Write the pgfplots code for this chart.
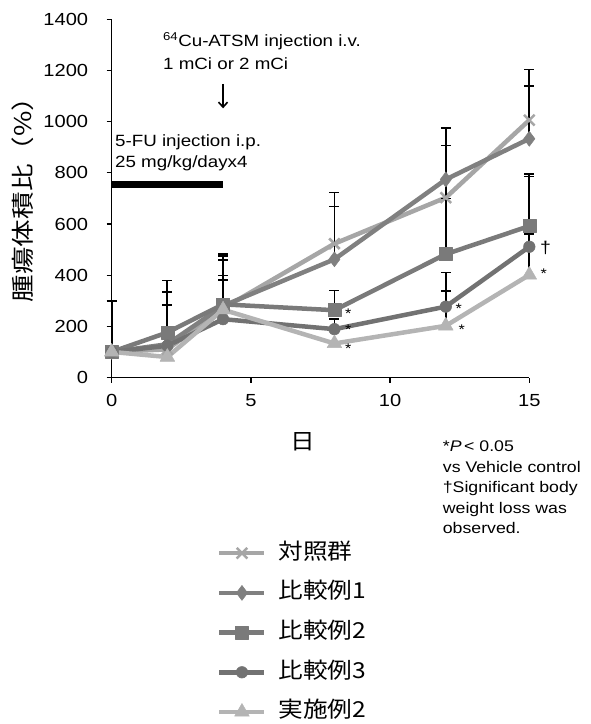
\documentclass[border=0pt]{standalone}
\usepackage{pgfplots}
\usepackage{pgfplotstable}
\pgfplotsset{compat=1.18}
\usetikzlibrary{arrows.meta}
\usepackage{fontspec}
\setmainfont{Liberation Sans}[FakeStretch=1.15]
\newfontfamily\jp{Noto Sans CJK JP}[FakeStretch=1.12]
\newfontfamily\jpy{Noto Sans CJK JP}[FakeStretch=1.2]

\definecolor{cCtrl}{HTML}{A6A6A6}
\definecolor{cCa}{HTML}{808080}
\definecolor{cCb}{HTML}{7A7A7A}
\definecolor{cCc}{HTML}{727272}
\definecolor{cEx}{HTML}{B4B4B4}

\pgfplotstableread{
x y e
0 100 200
2 110 173
4 270 205
8 523 200
12 703 203
15 1006 198
}\ctrl
\pgfplotstableread{
x y e
0 100 10
2 130 249
4 280 203
8 462 206
12 774 201
15 933 207
}\compa
\pgfplotstableread{
x y e
0 100 10
2 176 159
4 286 174
8 263 77
12 482 218
15 592 203
}\compb
\pgfplotstableread{
x y e
0 100 10
2 124 60
4 228 170
8 189 40
12 277 133
15 511 274
}\compc
\pgfplotstableread{
x y e
0 100 10
2 80 40
4 265 115
8 133 95
12 202 136
15 401 159
}\exb

\begin{document}
\begin{tikzpicture}
\useasboundingbox (0pt,0pt) rectangle (590pt,724pt);
\begin{axis}[
  at={(111.7pt,346.5pt)}, anchor=south west,
  scale only axis, width=417.6pt, height=358.2pt,
  xmin=0, xmax=15, ymin=0, ymax=1400,
  axis lines=left,
  axis line style={-, line width=1.5pt, black},
  xtick={0,5,10,15}, ytick={0,200,...,1400},
  tick align=outside, major tick length=5pt,
  tick style={black, line width=1.3pt},
  /pgf/number format/assume math mode=true,
  /pgf/number format/1000 sep={},
  tick label style={font=\fontsize{17.5}{17.5}\selectfont},
  xticklabel style={yshift=-8pt},
  yticklabel style={xshift=-15pt},
  clip=false,
  legend style={at={(0.2522,-0.462)}, anchor=north west, draw=none, fill=none,
    inner sep=0pt, row sep=19.7pt, column sep=12pt,
    nodes={inner sep=0pt, text height=16pt, text depth=4pt},
    font=\jp\fontsize{22}{22}\selectfont},
  legend cell align=left,
  legend image code/.code={\draw[mark repeat=2, mark phase=2, #1] plot coordinates {(0pt,0pt) (22.5pt,0pt) (45pt,0pt)};},
  ebar/.style={error bars/.cd, y dir=plus, y explicit, error mark=-,
    error bar style={black, line width=1.8pt, solid},
    error mark options={black, line width=1.6pt, mark size=5pt, solid, rotate=90}},
]
% 5-FU bar and arrow
\addplot[black, line width=7pt, forget plot, mark=none] coordinates {(0,755) (4,755)};
\addplot[black, line width=1.6pt, forget plot, mark=none, -{Straight Barb[length=5pt,width=9pt]}] coordinates {(4,1148) (4,1052)};

\addplot[cCtrl, line width=4.5pt, line join=round, mark=x, mark size=7.5pt, mark options={solid, line width=2.5pt}, ebar] table[x=x,y=y,y error=e]{\ctrl};
\addplot[cCa, line width=4.5pt, line join=round, mark=diamond*, mark size=7.5pt, mark options={solid, fill=cCa, draw=cCa, line width=0.5pt}, ebar] table[x=x,y=y,y error=e]{\compa};
\addplot[cCb, line width=4.5pt, line join=round, mark=square*, mark size=6.5pt, mark options={solid, fill=cCb, draw=cCb, line width=0.5pt}, ebar] table[x=x,y=y,y error=e]{\compb};
\addplot[cCc, line width=4.5pt, line join=round, mark=*, mark size=5.8pt, mark options={solid, fill=cCc, draw=cCc, line width=0.5pt}, ebar] table[x=x,y=y,y error=e]{\compc};
\addplot[cEx, line width=4.5pt, line join=round, mark=triangle*, mark size=8.5pt, mark options={solid, fill=cEx, draw=cEx, line width=0.5pt}, ebar] table[x=x,y=y,y error=e]{\exb};
\legend{対照群, 比較例1, 比較例2, 比較例3, 実施例2}

% significance marks
\begin{scope}[every node/.style={anchor=base west, inner sep=0pt, font=\fontsize{14}{14}\selectfont, yshift=-8pt}]
\node at (axis cs:8.38,263) {*};
\node at (axis cs:8.38,198) {*};
\node at (axis cs:8.38,127) {*};
\node at (axis cs:12.35,280) {*};
\node at (axis cs:12.45,198) {*};
\node at (axis cs:15.4,419) {*};
\end{scope}
\node[anchor=base west, inner sep=0pt, font=\fontsize{17}{17}\selectfont, yshift=-6pt] at (axis cs:15.38,510) {†};
\end{axis}

% texts
\begin{scope}[every node/.style={anchor=base west, inner sep=0pt, font=\fontsize{16.3}{16.3}\selectfont}]
\node at (163pt,677.3pt) {\textsuperscript{64}Cu-ATSM injection i.v.};
\node at (163pt,654pt) {1 mCi or 2 mCi};
\node at (115pt,577.3pt) {5-FU injection i.p.};
\node at (115pt,556pt) {25 mg/kg/dayx4};
\end{scope}
\begin{scope}[every node/.style={anchor=base west, inner sep=0pt, font=\fontsize{15.4}{15.4}\selectfont}]
\node at (442.7pt,272pt) {*\textit{P}\,< 0.05};
\node at (442.7pt,251.5pt) {vs Vehicle control};
\node at (442.7pt,231pt) {†Significant body};
\node at (442.7pt,210.5pt) {weight loss was};
\node at (442.7pt,190pt) {observed.};
\end{scope}
\node[rotate=90, inner sep=0pt, font=\jpy\fontsize{23}{23}\selectfont] at (23pt,531pt) {腫瘍体積比（\%）};
\node[inner sep=0pt, font=\jp\fontsize{22}{22}\selectfont] at (303pt,282.3pt) {日};
\end{tikzpicture}
\end{document}
